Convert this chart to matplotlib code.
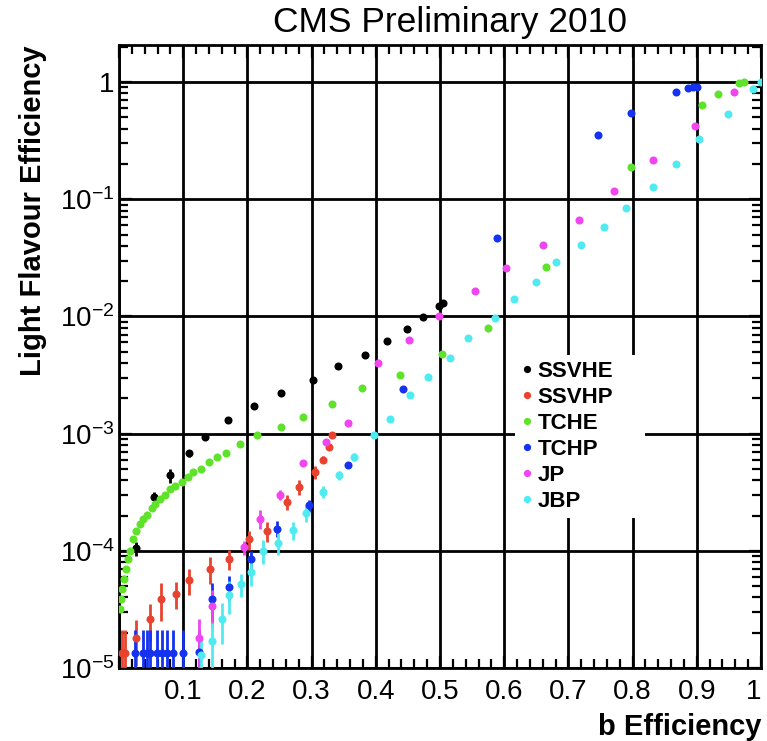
import numpy as np
import matplotlib
matplotlib.use("Agg")
import matplotlib.pyplot as plt
from matplotlib.ticker import FixedLocator, FixedFormatter, MultipleLocator, LogLocator, NullFormatter, FuncFormatter

plt.rcParams['font.family'] = ['Liberation Sans', 'DejaVu Sans']
plt.rcParams['mathtext.fontset'] = 'custom'
plt.rcParams['mathtext.rm'] = 'Liberation Sans'
plt.rcParams['mathtext.it'] = 'Liberation Sans:italic'
plt.rcParams['mathtext.bf'] = 'Liberation Sans:bold'
plt.rcParams['mathtext.default'] = 'regular'

# b efficiency / light flavour efficiency
ssvhe_x = [0.027, 0.054, 0.080, 0.109, 0.134, 0.170, 0.210, 0.252, 0.302, 0.341,
           0.383, 0.417, 0.448, 0.473, 0.499, 0.504]
ssvhe_y = [1.05e-4, 2.9e-4, 4.4e-4, 6.8e-4, 9.4e-4, 1.3e-3, 1.71e-3, 2.23e-3, 2.86e-3, 3.79e-3,
           4.73e-3, 6.15e-3, 7.8e-3, 9.8e-3, 1.23e-2, 1.3e-2]
ssvhe_err = [1.5e-5, 3e-5, 6e-5, 5e-5, 4e-5, 0, 0, 0, 0, 0,
             0, 0, 0, 0, 0, 0]

ssvhp_x = [0.004, 0.010, 0.027, 0.048, 0.065, 0.089, 0.109, 0.141, 0.171, 0.202,
           0.231, 0.261, 0.281, 0.306, 0.318, 0.327, 0.332]
ssvhp_y = [1.35e-5, 1.35e-5, 1.8e-5, 2.6e-5, 3.9e-5, 4.3e-5, 5.6e-5, 7.0e-5, 8.5e-5, 1.25e-4,
           1.48e-4, 2.6e-4, 3.5e-4, 4.7e-4, 6.0e-4, 7.7e-4, 9.7e-4]
ssvhp_err = [0.75e-5, 0.75e-5, 0.75e-5, 0.9e-5, 1.4e-5, 1.1e-5, 1.4e-5, 1.8e-5, 1.7e-5, 2.3e-5,
             2.8e-5, 3.8e-5, 5e-5, 6e-5, 4e-5, 3e-5, 0]

tche_x = [0.001, 0.0026, 0.005, 0.0078, 0.0104, 0.0135, 0.017, 0.022, 0.027, 0.033,
          0.038, 0.043, 0.051, 0.056, 0.064, 0.072, 0.080, 0.087, 0.098, 0.108,
          0.116, 0.127, 0.140, 0.153, 0.166, 0.189, 0.215, 0.252, 0.286, 0.331,
          0.378, 0.438, 0.503, 0.574, 0.665, 0.797, 0.908, 0.933, 0.965, 0.973]
tche_y = [3.2e-5, 3.9e-5, 4.7e-5, 5.7e-5, 7.0e-5, 8.5e-5, 1.0e-4, 1.27e-4, 1.49e-4, 1.7e-4,
          1.88e-4, 2.04e-4, 2.3e-4, 2.5e-4, 2.78e-4, 3.0e-4, 3.34e-4, 3.6e-4, 3.9e-4, 4.27e-4,
          4.7e-4, 5.0e-4, 5.7e-4, 6.3e-4, 6.8e-4, 8.2e-4, 9.7e-4, 1.14e-3, 1.39e-3, 1.78e-3,
          2.43e-3, 3.19e-3, 4.76e-3, 8.0e-3, 2.66e-2, 0.19, 0.64, 0.79, 0.98, 1.0]

tchp_x = [0.025, 0.0375, 0.044, 0.048, 0.059, 0.067, 0.075, 0.084, 0.100, 0.124,
          0.145, 0.172, 0.205, 0.246, 0.296, 0.356, 0.442, 0.589, 0.746, 0.797,
          0.867, 0.887, 0.894, 0.900]
tchp_y = [1.35e-5, 1.35e-5, 1.35e-5, 1.35e-5, 1.35e-5, 1.35e-5, 1.35e-5, 1.35e-5, 1.35e-5, 1.38e-5,
          3.9e-5, 4.9e-5, 8.5e-5, 1.55e-4, 2.44e-4, 5.4e-4, 2.38e-3, 4.7e-2, 0.355, 0.54,
          0.82, 0.89, 0.90, 0.91]
tchp_err = [0.75e-5, 0.75e-5, 0.75e-5, 0.75e-5, 0.75e-5, 0.75e-5, 0.75e-5, 0.75e-5, 0.75e-5, 0.75e-5,
            1.4e-5, 1.2e-5, 1.5e-5, 2.5e-5, 3e-5, 0, 0, 0, 0, 0,
            0, 0, 0, 0]

jp_x = [0.124, 0.145, 0.195, 0.219, 0.250, 0.286, 0.322, 0.357, 0.403, 0.452,
        0.499, 0.555, 0.603, 0.660, 0.716, 0.771, 0.832, 0.897, 0.958]
jp_y = [1.8e-5, 3.4e-5, 1.07e-4, 1.87e-4, 3.0e-4, 5.6e-4, 8.5e-4, 1.24e-3, 4.0e-3, 6.3e-3,
        1.0e-2, 1.66e-2, 2.57e-2, 4.07e-2, 6.65e-2, 0.118, 0.217, 0.42, 0.82]
jp_err = [0.8e-5, 1.2e-5, 1.5e-5, 3.5e-5, 3e-5, 0, 0, 0, 0, 0,
          0, 0, 0, 0, 0, 0, 0, 0, 0]

jbp_x = [0.127, 0.145, 0.160, 0.172, 0.190, 0.206, 0.225, 0.247, 0.271, 0.291,
         0.318, 0.342, 0.366, 0.397, 0.422, 0.453, 0.481, 0.515, 0.544, 0.585,
         0.615, 0.650, 0.680, 0.720, 0.756, 0.790, 0.832, 0.867, 0.903, 0.949,
         0.988, 1.0]
jbp_y = [1.29e-5, 1.7e-5, 2.6e-5, 4.2e-5, 5.2e-5, 6.6e-5, 1.0e-4, 1.17e-4, 1.5e-4, 2.1e-4,
         3.2e-4, 4.4e-4, 6.3e-4, 9.8e-4, 1.34e-3, 2.13e-3, 3.05e-3, 4.45e-3, 6.6e-3, 9.7e-3,
         1.41e-2, 1.98e-2, 2.89e-2, 4.07e-2, 5.75e-2, 8.4e-2, 0.128, 0.2, 0.326, 0.53,
         0.87, 1.0]
jbp_err = [0.5e-5, 0.7e-5, 1.0e-5, 1.3e-5, 1.2e-5, 1.6e-5, 2.3e-5, 2.5e-5, 2.7e-5, 3.5e-5,
           4e-5, 4e-5, 5e-5, 0, 0, 0, 0, 0, 0, 0,
           0, 0, 0, 0, 0, 0, 0, 0, 0, 0,
           0, 0]

labels = ["SSVHE", "SSVHP", "TCHE", "TCHP", "JP", "JBP"]
colors = ["#000000", "#e8432e", "#5fe32a", "#1432f0", "#f046f0", "#50ebf0"]

series = [
    (ssvhe_x, ssvhe_y, ssvhe_err),
    (ssvhp_x, ssvhp_y, ssvhp_err),
    (tche_x, tche_y, None),
    (tchp_x, tchp_y, tchp_err),
    (jp_x, jp_y, jp_err),
    (jbp_x, jbp_y, jbp_err),
]

fig = plt.figure(figsize=(7.67, 7.41), dpi=100)
ax = fig.add_axes([119 / 767, 73 / 741, 642 / 767, 623 / 741])

for (x, y, err), name, col in zip(series, labels, colors):
    if err is not None:
        ax.errorbar(x, y, yerr=err, fmt="none", ecolor=col, elinewidth=2.0, capsize=0, zorder=3)
    ax.plot(x, y, "o", color=col, ms=5.8, mec=col, mew=0, label=name, zorder=4)

ax.set_yscale("log")
ax.set_xlim(0, 1)
ax.set_ylim(1e-5, 2.07)

ax.yaxis.set_major_locator(FixedLocator([1e-5, 1e-4, 1e-3, 1e-2, 1e-1, 1]))
ax.yaxis.set_major_formatter(FixedFormatter([r"$10^{-5}$", r"$10^{-4}$", r"$10^{-3}$",
                                             r"$10^{-2}$", r"$10^{-1}$", "1"]))
ax.yaxis.set_minor_locator(LogLocator(base=10, subs=np.arange(2, 10), numticks=20))
ax.yaxis.set_minor_formatter(NullFormatter())

ax.xaxis.set_major_locator(MultipleLocator(0.1))
ax.xaxis.set_minor_locator(MultipleLocator(0.02))
ax.xaxis.set_major_formatter(FuncFormatter(
    lambda v, _: "" if v < 0.05 else ("1" if v > 0.95 else f"{v:.1f}")))

ax.grid(True, which="major", color="black", linewidth=2.0, zorder=1)
ax.set_axisbelow(True)
for s in ax.spines.values():
    s.set_linewidth(2.0)

ax.tick_params(which="both", direction="in", top=True, right=True, width=1.6)
ax.tick_params(which="major", length=9)
ax.tick_params(which="minor", length=6.5)
ax.tick_params(axis="y", pad=3, labelsize=20)
ax.tick_params(axis="x", pad=8, labelsize=20)

ax.set_title("CMS Preliminary 2010", fontsize=25.5, x=0.515, pad=9)
ax.set_ylabel("Light Flavour Efficiency", fontsize=21, fontweight="bold", loc="top")
ax.yaxis.set_label_coords(-0.112, 1.0)
ax.set_xlabel("b Efficiency", fontsize=21, fontweight="bold", loc="right")
ax.xaxis.set_label_coords(1.0, -0.072)

leg = ax.legend(loc="upper left", bbox_to_anchor=(0.6168, 0.25, 0.2025, 0.2524), mode="expand",
                borderaxespad=0, frameon=True, facecolor="white", edgecolor="none",
                fancybox=False, framealpha=1, prop={"weight": "bold", "size": 16},
                handlelength=0.6, handletextpad=0.16, labelspacing=0.23, borderpad=0.25,
                markerscale=0.9)
leg.set_zorder(5)

# keep the last x label ("1") inside the picture
fig.canvas.draw()
last = [t for t in ax.get_xticklabels() if t.get_text() == "1"]
for t in last:
    t.set_horizontalalignment("right")
    t.set_x(t.get_position()[0])

fig.savefig("out.png", dpi=100)
